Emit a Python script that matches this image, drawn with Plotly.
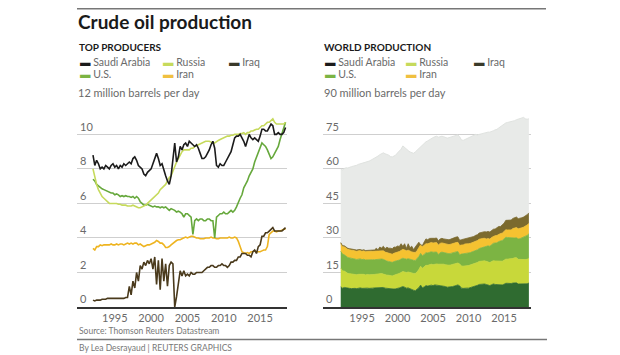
import numpy as np
import plotly.graph_objects as go

# ---------------- data ----------------
years = np.arange(1992.0, 2018.51, 0.25)  # quarterly time index

saudi = [8.8, 8.2, 8.5, 8.3, 8.0, 8.1, 8.0, 8.2, 8.1, 8.0, 8.2, 8.3, 8.1, 8.2, 8.0, 8.2,
         8.1, 8.3, 8.2, 8.3, 8.4, 8.3, 8.6, 8.7, 8.5, 8.2, 8.1, 8.0, 7.7, 7.6, 7.8, 7.9,
         8.0, 8.3, 8.6, 8.9, 8.6, 8.2, 8.3, 7.9, 7.6, 7.3, 7.1, 7.6, 8.4, 9.5, 8.4, 8.7,
         9.3, 9.1, 9.4, 9.5, 9.3, 9.6, 9.5, 9.4, 9.3, 9.4, 9.2, 8.9, 8.6, 8.6, 8.7, 8.9,
         9.1, 9.4, 9.6, 9.2, 8.2, 8.1, 8.3, 8.2, 8.2, 8.4, 8.6, 8.8, 9.0, 9.4, 9.8, 9.9,
         9.9, 10.0, 9.8, 9.6, 9.3, 9.7, 10.0, 9.8, 9.7, 9.8, 9.7, 9.6, 9.9, 10.3, 10.3, 10.2,
         10.2, 10.4, 10.6, 10.5, 10.0, 10.0, 10.1, 10.0, 10.0, 10.1, 10.4]
russia = [8.0, 7.5, 7.1, 6.8, 6.6, 6.4, 6.3, 6.2, 6.1, 6.0, 6.0, 6.0, 6.0, 6.0, 5.95, 5.95,
          5.9, 5.9, 5.9, 5.85, 5.85, 5.85, 5.9, 5.85, 5.8, 5.75, 5.75, 5.8, 5.85, 5.9, 6.0, 6.1,
          6.2, 6.3, 6.4, 6.5, 6.6, 6.8, 6.9, 7.0, 7.1, 7.3, 7.5, 7.6, 7.9, 8.2, 8.4, 8.6,
          8.8, 9.0, 9.1, 9.1, 9.1, 9.1, 9.2, 9.2, 9.3, 9.35, 9.4, 9.45, 9.5, 9.55, 9.6, 9.6,
          9.6, 9.55, 9.5, 9.5, 9.6, 9.65, 9.7, 9.75, 9.8, 9.85, 9.9, 9.9, 9.95, 9.95, 10.0, 10.0,
          10.0, 10.05, 10.05, 10.1, 10.0, 10.1, 10.1, 10.2, 10.2, 10.25, 10.3, 10.3, 10.4, 10.5, 10.5, 10.6,
          10.7, 10.7, 10.8, 10.9, 10.7, 10.6, 10.6, 10.6, 10.6, 10.6, 10.7]
iraq = [0.4, 0.35, 0.4, 0.4, 0.4, 0.45, 0.45, 0.45, 0.5, 0.5, 0.5, 0.5, 0.5, 0.5, 0.5, 0.5,
        0.5, 0.5, 0.55, 0.55, 1.2, 0.7, 1.5, 1.1, 2.0, 1.5, 2.4, 2.2, 2.6, 2.4, 2.7, 2.5,
        2.8, 2.2, 2.9, 1.3, 2.7, 1.0, 2.8, 1.5, 2.5, 1.2, 2.4, 2.6, 2.5, 0.0, 0.6, 1.5,
        2.1, 1.8, 2.1, 1.8, 1.9, 1.8, 2.0, 1.9, 1.9, 2.0, 2.0, 2.0, 2.0, 2.1, 2.2, 2.3,
        2.3, 2.4, 2.4, 2.3, 2.3, 2.4, 2.4, 2.5, 2.4, 2.4, 2.3, 2.4, 2.6, 2.6, 2.7, 2.7,
        2.9, 2.9, 3.1, 3.1, 3.1, 3.0, 3.0, 2.9, 3.2, 3.3, 3.1, 3.5, 3.6, 4.1, 4.1, 4.3,
        4.3, 4.4, 4.5, 4.6, 4.4, 4.4, 4.4, 4.4, 4.4, 4.5, 4.6]
us = [7.4, 7.3, 7.1, 7.0, 6.9, 6.85, 6.8, 6.75, 6.7, 6.65, 6.6, 6.6, 6.5, 6.55, 6.5, 6.4,
      6.45, 6.4, 6.45, 6.4, 6.4, 6.35, 6.4, 6.3, 6.4, 6.3, 6.1, 6.0, 5.9, 5.9, 5.95, 5.9,
      5.85, 5.8, 5.85, 5.8, 5.8, 5.75, 5.8, 5.75, 5.8, 5.7, 5.6, 5.7, 5.65, 5.6, 5.5, 5.55,
      5.5, 5.4, 5.2, 5.4, 5.4, 5.3, 5.2, 4.2, 5.0, 5.1, 5.0, 5.1, 5.1, 5.0, 5.0, 5.1,
      5.1, 5.0, 5.0, 4.0, 5.2, 5.3, 5.4, 5.4, 5.5, 5.4, 5.4, 5.5, 5.6, 5.5, 5.6, 5.8,
      6.1, 6.3, 6.5, 6.9, 7.1, 7.3, 7.6, 7.8, 8.0, 8.4, 8.7, 9.0, 9.3, 9.5, 9.4, 9.3,
      9.1, 8.8, 8.6, 8.7, 8.9, 9.1, 9.3, 9.7, 10.0, 10.4, 10.7]
iran = [3.4, 3.3, 3.5, 3.5, 3.6, 3.55, 3.6, 3.6, 3.6, 3.6, 3.65, 3.6, 3.6, 3.65, 3.6, 3.65,
        3.65, 3.6, 3.65, 3.7, 3.65, 3.7, 3.65, 3.7, 3.7, 3.6, 3.65, 3.55, 3.5, 3.55, 3.6, 3.6,
        3.65, 3.7, 3.75, 3.85, 3.8, 3.7, 3.7, 3.6, 3.45, 3.45, 3.5, 3.6, 3.7, 3.75, 3.85, 3.9,
        3.9, 3.95, 4.0, 4.05, 4.0, 4.05, 4.1, 4.1, 4.05, 4.0, 4.0, 3.95, 3.95, 3.95, 4.0, 4.0,
        4.0, 4.05, 4.0, 4.0, 3.95, 3.95, 4.0, 4.0, 4.0, 4.0, 4.0, 4.05, 4.0, 4.0, 4.05, 4.0,
        3.8, 3.5, 3.2, 3.15, 3.1, 3.15, 3.1, 3.2, 3.2, 3.25, 3.2, 3.2, 3.2, 3.25, 3.3, 3.3,
        3.5, 4.2, 4.3, 4.4, 4.4, 4.35, 4.4, 4.4, 4.45, 4.5, 4.5]
world = [60.0, 59.6, 60.2, 60.5, 60.4, 60.8, 61.0, 61.2, 61.3, 61.6, 62.0, 62.2, 62.4, 62.6, 62.8, 63.2,
         63.4, 63.8, 64.2, 64.6, 65.0, 65.6, 66.2, 66.8, 67.0, 66.6, 66.4, 66.0, 65.4, 65.2, 65.6, 66.0,
         67.0, 67.6, 68.6, 70.0, 69.2, 68.4, 68.0, 67.4, 67.0, 66.8, 67.4, 68.2, 69.0, 69.6, 70.4, 71.2,
         71.8, 72.2, 72.8, 73.4, 73.6, 74.0, 74.2, 73.8, 74.0, 74.2, 74.0, 73.8, 73.4, 73.6, 73.8, 74.2,
         74.4, 74.6, 74.8, 74.0, 72.6, 72.4, 72.8, 73.2, 73.6, 74.0, 74.4, 74.8, 75.0, 74.8, 75.0, 75.4,
         75.6, 75.8, 75.8, 76.0, 76.0, 76.2, 76.6, 77.0, 77.2, 77.8, 78.4, 79.0, 79.6, 80.0, 80.2, 80.4,
         80.6, 80.6, 81.0, 81.4, 81.6, 81.8, 82.0, 82.4, 81.8, 81.6, 81.8]

left_ticks = [0, 2, 4, 6, 8, 10, 12]
left_ticktext = ["0", "2", "4", "6", "8", "10", "12 million barrels per day"]
right_ticks = [0, 15, 30, 45, 60, 75, 90]
right_ticktext = ["0", "15", "30", "45", "60", "75", "90 million barrels per day"]
year_ticks = [1995, 2000, 2005, 2010, 2015]

series_names = ["Saudi Arabia", "Russia", "Iraq", "U.S.", "Iran"]
line_colors = {"Saudi Arabia": "#1b1b1b", "Russia": "#c6da5c", "Iraq": "#4a3a1c",
               "U.S.": "#66a83c", "Iran": "#eeb420"}
area_colors = {"Saudi Arabia": "#2f6b30", "Russia": "#c8d83a", "U.S.": "#7cb443",
               "Iran": "#f5c231", "Iraq": "#7b6a2e"}
data = {"Saudi Arabia": saudi, "Russia": russia, "Iraq": iraq, "U.S.": us, "Iran": iran}

# ---------------- figure ----------------
FONT = "Lato"
W, H = 620, 355
OFF = 8  # page body margin of the html page
fig = go.Figure()

for name in ["Iran", "Iraq", "U.S.", "Russia", "Saudi Arabia"]:
    fig.add_trace(go.Scatter(x=years, y=data[name], mode="lines", name=name,
                             line=dict(color=line_colors[name], width=1.6),
                             xaxis="x", yaxis="y", showlegend=False))

fig.add_trace(go.Scatter(x=years, y=world, mode="lines", fill="tozeroy",
                         fillcolor="#e8eae8", line=dict(color="#e0e3e0", width=1),
                         xaxis="x2", yaxis="y2", showlegend=False))
for name in ["Saudi Arabia", "Russia", "U.S.", "Iran", "Iraq"]:
    fig.add_trace(go.Scatter(x=years, y=data[name], mode="lines", stackgroup="one",
                             fillcolor=area_colors[name],
                             line=dict(color=area_colors[name], width=0.8),
                             xaxis="x2", yaxis="y2", showlegend=False))

def px_x(p):
    return (p - OFF) / W

def px_y(p):
    return 1 - (p - OFF) / H

tickfont = dict(family=FONT, size=11, color="#6a6a6a")
common_y = dict(showgrid=True, gridcolor="#cfcfcf", gridwidth=1, zeroline=False,
                ticklabelposition="inside top", ticks="", tickfont=tickfont, fixedrange=True)
common_x = dict(showgrid=False, zeroline=False, showline=True, linecolor="#333333",
                linewidth=1.5, ticks="", tickmode="array", tickvals=year_ticks,
                tickfont=tickfont, fixedrange=True)

fig.update_layout(
    width=W, height=H,
    margin=dict(l=0, r=0, t=0, b=0),
    paper_bgcolor="white", plot_bgcolor="white",
    xaxis=dict(domain=[px_x(77), px_x(287)], range=[1989.8, 2018.7], anchor="y", **common_x),
    yaxis=dict(domain=[px_y(307), px_y(99)], range=[0, 12.05], anchor="x",
               tickmode="array", tickvals=left_ticks, ticktext=left_ticktext[:-1] + [""], **common_y),
    xaxis2=dict(domain=[px_x(323), px_x(531)], range=[1989.5, 2018.8], anchor="y2", **common_x),
    yaxis2=dict(domain=[px_y(307), px_y(99)], range=[0, 90.4], anchor="x2",
                tickmode="array", tickvals=right_ticks, ticktext=right_ticktext[:-1] + [""], **common_y),
)

annotations = []
def txt(x, y, text, size=11, color="#666666", bold=False, anchor="left"):
    t = f"<b>{text}</b>" if bold else text
    annotations.append(dict(x=px_x(x), y=px_y(y), xref="paper", yref="paper", text=t,
                            showarrow=False, xanchor=anchor, yanchor="middle",
                            font=dict(family=FONT, size=size, color=color)))

txt(76, 22, "Crude oil production", size=19, color="#1a1a1a", bold=True)
txt(77, 47, "TOP PRODUCERS", size=10, color="#1a1a1a", bold=True)
txt(322, 47, "WORLD PRODUCTION", size=10, color="#1a1a1a", bold=True)
txt(76, 92, left_ticktext[-1], size=11, color="#6a6a6a")
txt(322, 92, right_ticktext[-1], size=11, color="#6a6a6a")

legend_pos_left = {"Saudi Arabia": (78, 61.5), "Russia": (161, 61.5), "Iraq": (227, 61.5),
                   "U.S.": (78, 74), "Iran": (161, 74)}
legend_pos_right = {"Saudi Arabia": (323, 61.5), "Russia": (404, 61.5), "Iraq": (472, 61.5),
                    "U.S.": (323, 74), "Iran": (404, 74)}
legend_mark = {"Saudi Arabia": "#1b1b1b", "Russia": "#c6da5c", "Iraq": "#3a3a2a",
               "U.S.": "#7cb443", "Iran": "#f0c040"}
for pos in (legend_pos_left, legend_pos_right):
    for name in series_names:
        x, y = pos[name]
        annotations.append(dict(x=px_x(x), y=px_y(y), xref="paper", yref="paper",
                                text=f"<span style='color:{legend_mark[name]}'>▬</span> {name}",
                                showarrow=False, xanchor="left", yanchor="middle",
                                font=dict(family=FONT, size=10.5, color="#6a6a6a")))

txt(77, 331, "Source: Thomson Reuters Datastream", size=8.5, color="#777777")
txt(77, 348, "By Lea Desrayaud | REUTERS GRAPHICS", size=8.5, color="#777777")

fig.update_layout(annotations=annotations)

# top rule (as high as the page allows) and footer rule
fig.add_shape(type="line", xref="paper", yref="paper", x0=px_x(77), x1=px_x(546),
              y0=px_y(8.8), y1=px_y(8.8), line=dict(color="#777777", width=1.5))
fig.add_shape(type="line", xref="paper", yref="paper", x0=px_x(77), x1=px_x(547),
              y0=px_y(339.5), y1=px_y(339.5), line=dict(color="#777777", width=1.5))

fig.write_html("out.html")
